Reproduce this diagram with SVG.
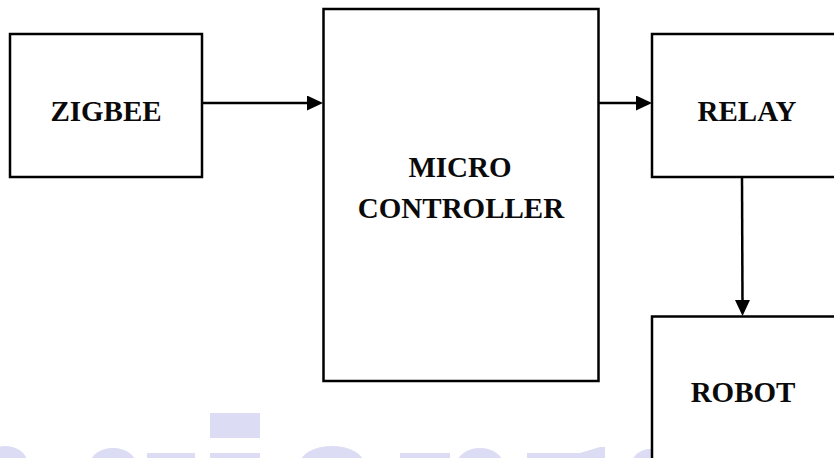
<svg xmlns="http://www.w3.org/2000/svg" width="834" height="458" viewBox="0 0 834 458">
<style>
.box{fill:#ffffff;stroke:#000000;stroke-width:2.5}
.lbl{font-family:"Liberation Serif","Times New Roman",serif;font-weight:bold;font-size:29px;fill:#0a0a0a;text-anchor:middle}
.conn{stroke:#000000;stroke-width:2.5;fill:none}
.wm{fill:#dcdcf5}
</style>
<defs>
<marker id="ah" markerUnits="userSpaceOnUse" markerWidth="17" markerHeight="16" refX="6" refY="7.5" orient="auto">
<path d="M0,0 L16,7.5 L0,15 z" fill="#000000"/>
</marker>
</defs>
<rect width="834" height="458" fill="#ffffff"/>
<g id="watermark">
<rect class="wm" x="210" y="413" width="50" height="25"/>
<ellipse class="wm" cx="5" cy="462" rx="22" ry="16"/>
<ellipse class="wm" cx="113" cy="464" rx="23" ry="16"/>
<rect class="wm" x="147" y="453" width="48" height="6"/>
<rect class="wm" x="210" y="453" width="50" height="6"/>
<ellipse class="wm" cx="332" cy="464" rx="32" ry="18"/>
<rect class="wm" x="400" y="453" width="50" height="6"/>
<ellipse class="wm" cx="480" cy="464" rx="23" ry="16"/>
<path class="wm" d="M527,453 L580,453 L600,447 L605,447 L605,459 L527,459 z"/>
<ellipse class="wm" cx="650" cy="464" rx="18" ry="15"/>
</g>
<g id="connectors">
<line class="conn" x1="202" y1="103" x2="313" y2="103" marker-end="url(#ah)"/>
<line class="conn" x1="598" y1="103" x2="642" y2="103" marker-end="url(#ah)"/>
<line class="conn" x1="742" y1="177" x2="742.5" y2="306" marker-end="url(#ah)"/>
</g>
<g id="zigbee">
<rect class="box" x="10" y="34" width="192" height="143"/>
<text class="lbl" x="106" y="121">ZIGBEE</text>
</g>
<g id="microcontroller">
<rect class="box" x="323.5" y="9" width="275" height="372"/>
<text class="lbl" x="460" y="177">MICRO</text>
<text class="lbl" x="461" y="218">CONTROLLER</text>
</g>
<g id="relay">
<rect class="box" x="652" y="34" width="200" height="143"/>
<text class="lbl" x="747" y="121">RELAY</text>
</g>
<g id="robot">
<rect class="box" x="652" y="316.5" width="200" height="200"/>
<text class="lbl" x="743" y="402">ROBOT</text>
</g>
</svg>
